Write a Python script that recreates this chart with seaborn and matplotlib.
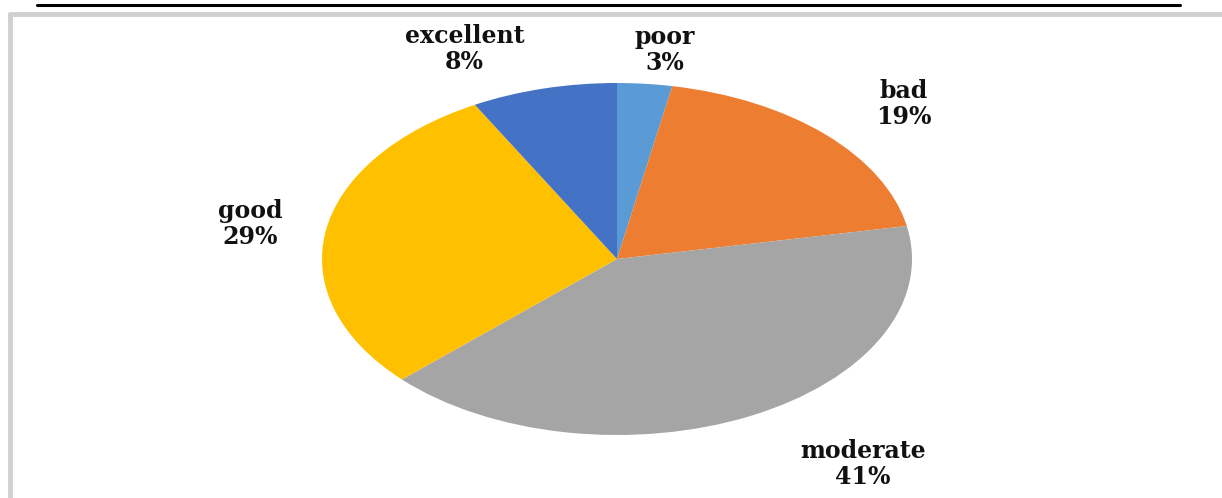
import matplotlib
matplotlib.use("Agg")
import matplotlib.pyplot as plt
from matplotlib.lines import Line2D
import numpy as np
import seaborn as sns

categories = ["poor", "bad", "moderate", "good", "excellent"]
percents = [3, 19, 41, 29, 8]
colors = ["#5B9BD5", "#ED7D31", "#A5A5A5", "#FFC000", "#4472C4"]
label_dist = [1.20, 1.31, 1.43, 1.26, 1.30]
label_shift = [-2.4, -2.9, 8.6, 0.0, 9.0]  # degrees, nudges labels like Excel does

sns.set_theme(style="white")
plt.rcParams["font.family"] = ["DejaVu Serif"]

fig = plt.figure(figsize=(12.22, 4.98), dpi=100)
ax = fig.add_axes([322 / 1222, 63 / 498, 590 / 1222, 352 / 498])

wedges, _ = ax.pie(percents, colors=colors, startangle=90, counterclock=False,
                   wedgeprops=dict(linewidth=0))
ax.set_aspect("auto")
ax.set_xlim(-1, 1)
ax.set_ylim(-1, 1)
ax.axis("off")

for w, name, pct, d, s in zip(wedges, categories, percents, label_dist, label_shift):
    ang = np.deg2rad((w.theta1 + w.theta2) / 2 + s)
    ax.text(d * np.cos(ang), d * np.sin(ang), f"{name}\n{pct}%", ha="center", va="center",
            fontsize=17, fontweight="bold", color="#111111", linespacing=1.1)

# page rule and gray frame
fig.add_artist(Line2D([37 / 1222, 1180 / 1222], [1 - 5 / 498, 1 - 5 / 498],
                      color="black", linewidth=2.2, transform=fig.transFigure))
fig.add_artist(Line2D([10 / 1222, 10 / 1222], [0, 1 - 14 / 498],
                      color="#d0d0d0", linewidth=3.5, transform=fig.transFigure))
fig.add_artist(Line2D([10 / 1222, 1], [1 - 14 / 498, 1 - 14 / 498],
                      color="#d0d0d0", linewidth=3.5, transform=fig.transFigure))

fig.savefig("out.png", dpi=100)
